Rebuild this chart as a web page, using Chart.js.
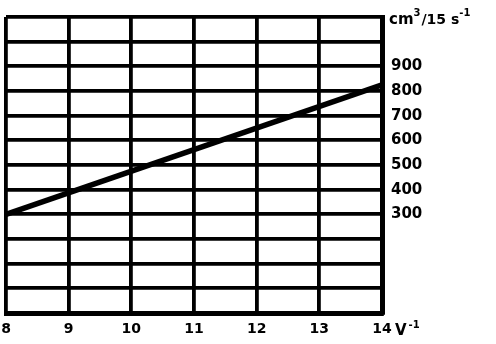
<!DOCTYPE html>
<html>
<head>
<meta charset="utf-8">
<script src="https://cdn.jsdelivr.net/npm/chart.js@4"></script>
<style>
html,body{margin:0;padding:0;background:#fff;}
#wrap{width:496px;height:344px;position:relative;}
</style>
</head>
<body>
<div id="wrap"><canvas id="c" width="496" height="344"></canvas></div>
<script>
const voltages = [8, 14];
const flows = [300, 825];
const yTickLabels = [300, 400, 500, 600, 700, 800, 900];
const xTickLabels = [8, 9, 10, 11, 12, 13, 14];
const yUnit = ['cm', '3', '/15 s', '-1'];
const xUnit = ['V', '-1'];

const FONT = "'DejaVu Sans', sans-serif";

const unitPlugin = {
  id: 'units',
  afterDraw(chart) {
    const ctx = chart.ctx;
    const area = chart.chartArea;
    ctx.save();
    ctx.fillStyle = '#000';
    ctx.textBaseline = 'alphabetic';
    let x = area.right + 7;
    let y = area.top + 7;
    ctx.font = 'bold 15px ' + FONT;
    ctx.fillText(yUnit[0], x, y); x += ctx.measureText(yUnit[0]).width;
    ctx.font = 'bold 10px ' + FONT;
    ctx.fillText(yUnit[1], x, y - 8); x += ctx.measureText(yUnit[1]).width + 1;
    ctx.font = 'bold 14px ' + FONT;
    ctx.fillText(yUnit[2], x, y); x += ctx.measureText(yUnit[2]).width;
    ctx.font = 'bold 10px ' + FONT;
    ctx.fillText(yUnit[3], x, y - 8);
    const xs = chart.scales.x;
    x = xs.getPixelForValue(14) + 13;
    y = area.bottom + 22;
    ctx.font = 'bold 15px ' + FONT;
    ctx.fillText(xUnit[0], x, y); x += ctx.measureText(xUnit[0]).width + 2;
    ctx.font = 'bold 10px ' + FONT;
    ctx.fillText(xUnit[1], x, y - 7);
    ctx.restore();
  }
};

new Chart(document.getElementById('c'), {
  type: 'line',
  data: {
    datasets: [{
      data: voltages.map((v, i) => ({x: v, y: flows[i]})),
      borderColor: '#000',
      borderWidth: 5.5,
      pointRadius: 0,
      tension: 0,
      clip: false
    }]
  },
  options: {
    responsive: false,
    animation: false,
    devicePixelRatio: 1,
    layout: {padding: {left: 6, top: 17, right: 0, bottom: 0}},
    plugins: {legend: {display: false}, tooltip: {enabled: false}},
    scales: {
      x: {
        type: 'linear',
        min: 8, max: 14,
        ticks: {
          stepSize: 1,
          color: '#000',
          font: {family: FONT, weight: 'bold', size: 14},
          padding: 8,
          maxRotation: 0,
          callback: v => xTickLabels.includes(v) ? String(v) : ''
        },
        grid: {color: '#000', lineWidth: 3.8, drawTicks: false},
        border: {color: '#000', width: 5},
        afterFit: s => { s.height = 31; s.paddingLeft = 0; s.paddingRight = 0; }
      },
      y: {
        type: 'linear',
        position: 'right',
        min: -100, max: 1100,
        ticks: {
          stepSize: 100,
          color: '#000',
          font: {family: FONT, weight: 'bold', size: 15},
          padding: 9,
          callback: v => yTickLabels.includes(v) ? String(v) : ''
        },
        grid: {color: '#000', lineWidth: 3.8, drawTicks: false},
        border: {color: '#000', width: 5},
        afterFit: s => { s.width = 114; s.paddingTop = 0; s.paddingBottom = 0; }
      }
    }
  },
  plugins: [unitPlugin]
});
</script>
</body>
</html>
